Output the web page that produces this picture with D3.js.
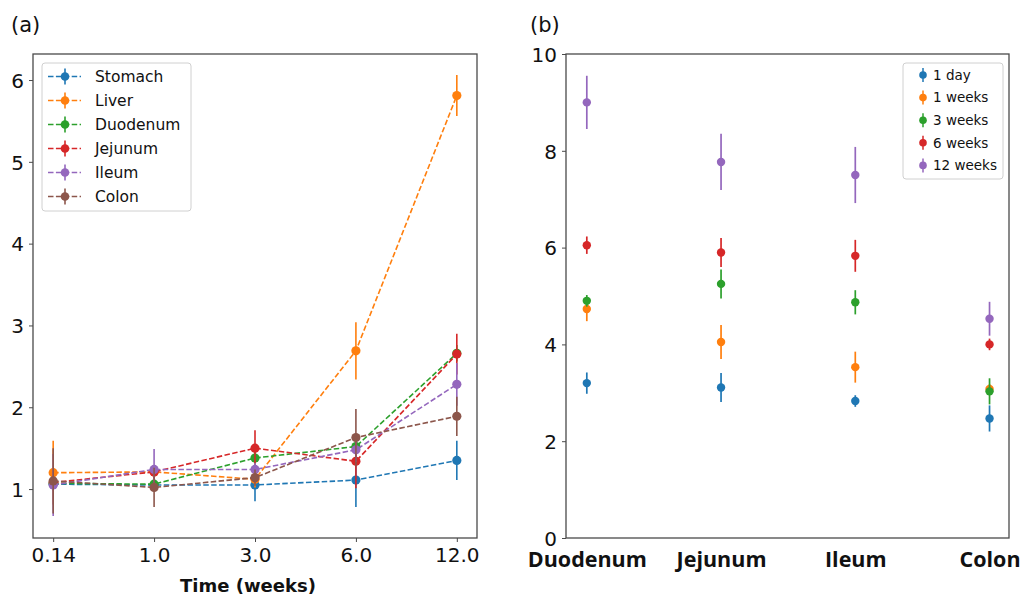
<!DOCTYPE html>
<html>
<head>
<meta charset="utf-8">
<script src="https://cdn.jsdelivr.net/npm/d3@7"></script>
<style>
  html, body { margin: 0; padding: 0; background: #fff; }
  svg { display: block; font-family: "DejaVu Sans", sans-serif; }
</style>
</head>
<body>
<svg id="chart" width="1021" height="600"></svg>
<script>
// ---------- Panel (a): relative signal over time, per organ ----------
const timeLabels = ["0.14", "1.0", "3.0", "6.0", "12.0"];
const organs = ["Stomach", "Liver", "Duodenum", "Jejunum", "Ileum", "Colon"];
const stomachMean  = [1.06, 1.05, 1.05, 1.11, 1.35];
const stomachErr   = [0.08, 0.06, 0.20, 0.33, 0.24];
const liverMean    = [1.20, 1.21, 1.12, 2.69, 5.81];
const liverErr     = [0.39, 0.08, 0.10, 0.35, 0.25];
const duodenumMean = [1.07, 1.06, 1.38, 1.52, 2.66];
const duodenumErr  = [0.06, 0.05, 0.08, 0.10, 0.10];
const jejunumMean  = [1.08, 1.21, 1.50, 1.34, 2.65];
const jejunumErr   = [0.05, 0.08, 0.22, 0.33, 0.25];
const ileumMean    = [1.05, 1.24, 1.24, 1.48, 2.28];
const ileumErr     = [0.38, 0.25, 0.08, 0.15, 0.26];
const colonMean    = [1.10, 1.02, 1.14, 1.63, 1.89];
const colonErr     = [0.40, 0.24, 0.10, 0.35, 0.24];
const yTicksA = [1, 2, 3, 4, 5, 6];

// ---------- Panel (b): signal per intestinal segment, per time point ----------
const segments = ["Duodenum", "Jejunum", "Ileum", "Colon"];
const timepoints = ["1 day", "1 weeks", "3 weeks", "6 weeks", "12 weeks"];
const day1Mean    = [3.20, 3.11, 2.83, 2.47];
const day1Err     = [0.22, 0.30, 0.12, 0.27];
const week1Mean   = [4.73, 4.05, 3.53, 3.08];
const week1Err    = [0.25, 0.35, 0.32, 0.10];
const week3Mean   = [4.90, 5.25, 4.87, 3.03];
const week3Err    = [0.12, 0.30, 0.25, 0.27];
const week6Mean   = [6.05, 5.90, 5.83, 4.00];
const week6Err    = [0.18, 0.30, 0.33, 0.12];
const week12Mean  = [9.00, 7.77, 7.50, 4.53];
const week12Err   = [0.55, 0.58, 0.58, 0.35];
const yTicksB = [0, 2, 4, 6, 8, 10];

const colors = ["#1f77b4", "#ff7f0e", "#2ca02c", "#d62728", "#9467bd", "#8c564b"];

const seriesA = [
  [stomachMean, stomachErr], [liverMean, liverErr], [duodenumMean, duodenumErr],
  [jejunumMean, jejunumErr], [ileumMean, ileumErr], [colonMean, colonErr]
].map((d, i) => ({ name: organs[i], color: colors[i],
  pts: d[0].map((m, j) => ({ i: j, m: m, e: d[1][j] })) }));

const seriesB = [
  [day1Mean, day1Err], [week1Mean, week1Err], [week3Mean, week3Err],
  [week6Mean, week6Err], [week12Mean, week12Err]
].map((d, i) => ({ name: timepoints[i], color: colors[i],
  pts: d[0].map((m, j) => ({ i: j, m: m, e: d[1][j] })) }));

const svg = d3.select("#chart");
const frameColor = "#4a4a4a";
const tickFont = 20;

// ===== Panel (a) =====
const A = { left: 33, right: 477, top: 54, bottom: 538 };
const xA = d3.scaleLinear().domain([-0.2, 4.2]).range([A.left, A.right]);
const yA = d3.scaleLinear().domain([0.402, 6.318]).range([A.bottom, A.top]);

const gA = svg.append("g");

const axBA = gA.append("g").attr("transform", `translate(0,${A.bottom})`)
  .call(d3.axisBottom(xA).tickValues(d3.range(timeLabels.length))
    .tickFormat(i => timeLabels[i]).tickSize(4).tickPadding(6));
const axLA = gA.append("g").attr("transform", `translate(${A.left},0)`)
  .call(d3.axisLeft(yA).tickValues(yTicksA).tickFormat(d3.format("d")).tickSize(4).tickPadding(5));
[axBA, axLA].forEach(ax => {
  ax.select(".domain").remove();
  ax.selectAll("line").attr("stroke", frameColor).attr("stroke-width", 1);
  ax.selectAll("text").attr("font-size", tickFont).attr("fill", "#111")
    .attr("font-family", "DejaVu Sans, sans-serif");
});
axLA.selectAll("text").attr("dy", "0.36em");

gA.append("rect").attr("x", A.left).attr("y", A.top)
  .attr("width", A.right - A.left).attr("height", A.bottom - A.top)
  .attr("fill", "none").attr("stroke", frameColor).attr("stroke-width", 1.3);

const lineA = d3.line().x(d => xA(d.i)).y(d => yA(d.m));
seriesA.forEach(s => {
  const g = gA.append("g");
  g.append("path").datum(s.pts).attr("d", lineA)
    .attr("fill", "none").attr("stroke", s.color).attr("stroke-width", 1.6)
    .attr("stroke-dasharray", "5.5,2.4");
  g.selectAll("line.err").data(s.pts).join("line").attr("class", "err")
    .attr("x1", d => xA(d.i)).attr("x2", d => xA(d.i))
    .attr("y1", d => yA(d.m - d.e)).attr("y2", d => yA(d.m + d.e))
    .attr("stroke", s.color).attr("stroke-width", 1.6);
  g.selectAll("circle").data(s.pts).join("circle")
    .attr("cx", d => xA(d.i)).attr("cy", d => yA(d.m)).attr("r", 4.6)
    .attr("fill", s.color);
});

gA.append("text").attr("x", 248).attr("y", 592)
  .attr("text-anchor", "middle").attr("font-size", 18).attr("font-weight", "bold")
  .attr("fill", "#111").text("Time (weeks)");

gA.append("text").attr("x", 11).attr("y", 32).attr("font-size", 21)
  .attr("fill", "#111").text("(a)");

// legend (a)
const legA = gA.append("g");
legA.append("rect").attr("x", 42).attr("y", 63).attr("width", 149).attr("height", 148)
  .attr("rx", 3).attr("fill", "#fff").attr("fill-opacity", 0.85)
  .attr("stroke", "#d0d0d0").attr("stroke-width", 1);
seriesA.forEach((s, k) => {
  const cy = 76.5 + k * 24;
  legA.append("line").attr("x1", 48).attr("x2", 81).attr("y1", cy).attr("y2", cy)
    .attr("stroke", s.color).attr("stroke-width", 1.6).attr("stroke-dasharray", "5.5,2.4");
  legA.append("line").attr("x1", 65).attr("x2", 65).attr("y1", cy - 8).attr("y2", cy + 8)
    .attr("stroke", s.color).attr("stroke-width", 1.6);
  legA.append("circle").attr("cx", 65).attr("cy", cy).attr("r", 4.3).attr("fill", s.color);
  legA.append("text").attr("x", 95).attr("y", cy).attr("dy", "0.36em")
    .attr("font-size", 15.5).attr("fill", "#111").text(s.name);
});

// ===== Panel (b) =====
const B = { left: 566, right: 1009, top: 54, bottom: 538 };
const xB = d3.scaleLinear().domain([-0.155, 3.145]).range([B.left, B.right]);
const yB = d3.scaleLinear().domain([0, 10]).range([B.bottom, B.top]);

const gB = svg.append("g");
const axLB = gB.append("g").attr("transform", `translate(${B.left},0)`)
  .call(d3.axisLeft(yB).tickValues(yTicksB).tickFormat(d3.format("d")).tickSize(4).tickPadding(5));
axLB.select(".domain").remove();
axLB.selectAll("line").attr("stroke", frameColor);
axLB.selectAll("text").attr("font-size", tickFont).attr("fill", "#111").attr("dy", "0.36em")
  .attr("font-family", "DejaVu Sans, sans-serif");

const axBB = gB.append("g").attr("transform", `translate(0,${B.bottom})`)
  .call(d3.axisBottom(xB).tickValues(d3.range(segments.length))
    .tickFormat(i => segments[i]).tickSize(0).tickPadding(14));
axBB.select(".domain").remove();
axBB.selectAll("text").attr("font-size", 21.5).attr("font-weight", "bold").attr("fill", "#111")
  .attr("font-family", "'Open Sans', sans-serif").attr("dy", "0.71em");

gB.append("rect").attr("x", B.left).attr("y", B.top)
  .attr("width", B.right - B.left).attr("height", B.bottom - B.top)
  .attr("fill", "none").attr("stroke", frameColor).attr("stroke-width", 1.3);

seriesB.forEach(s => {
  const g = gB.append("g");
  g.selectAll("line").data(s.pts).join("line")
    .attr("x1", d => xB(d.i)).attr("x2", d => xB(d.i))
    .attr("y1", d => yB(d.m - d.e)).attr("y2", d => yB(d.m + d.e))
    .attr("stroke", s.color).attr("stroke-width", 1.7);
  g.selectAll("circle").data(s.pts).join("circle")
    .attr("cx", d => xB(d.i)).attr("cy", d => yB(d.m)).attr("r", 4.2)
    .attr("fill", s.color);
});

gB.append("text").attr("x", 530).attr("y", 32).attr("font-size", 21)
  .attr("fill", "#111").text("(b)");

// legend (b)
const legB = gB.append("g");
legB.append("rect").attr("x", 903).attr("y", 63).attr("width", 100).attr("height", 116)
  .attr("rx", 3).attr("fill", "#fff").attr("fill-opacity", 0.85)
  .attr("stroke", "#d0d0d0").attr("stroke-width", 1);
seriesB.forEach((s, k) => {
  const cy = 75 + k * 22.6;
  legB.append("line").attr("x1", 923).attr("x2", 923).attr("y1", cy - 7).attr("y2", cy + 7)
    .attr("stroke", s.color).attr("stroke-width", 1.5);
  legB.append("circle").attr("cx", 923).attr("cy", cy).attr("r", 3.8).attr("fill", s.color);
  legB.append("text").attr("x", 933).attr("y", cy).attr("dy", "0.36em")
    .attr("font-size", 13.5).attr("fill", "#111").text(s.name);
});
</script>
</body>
</html>
